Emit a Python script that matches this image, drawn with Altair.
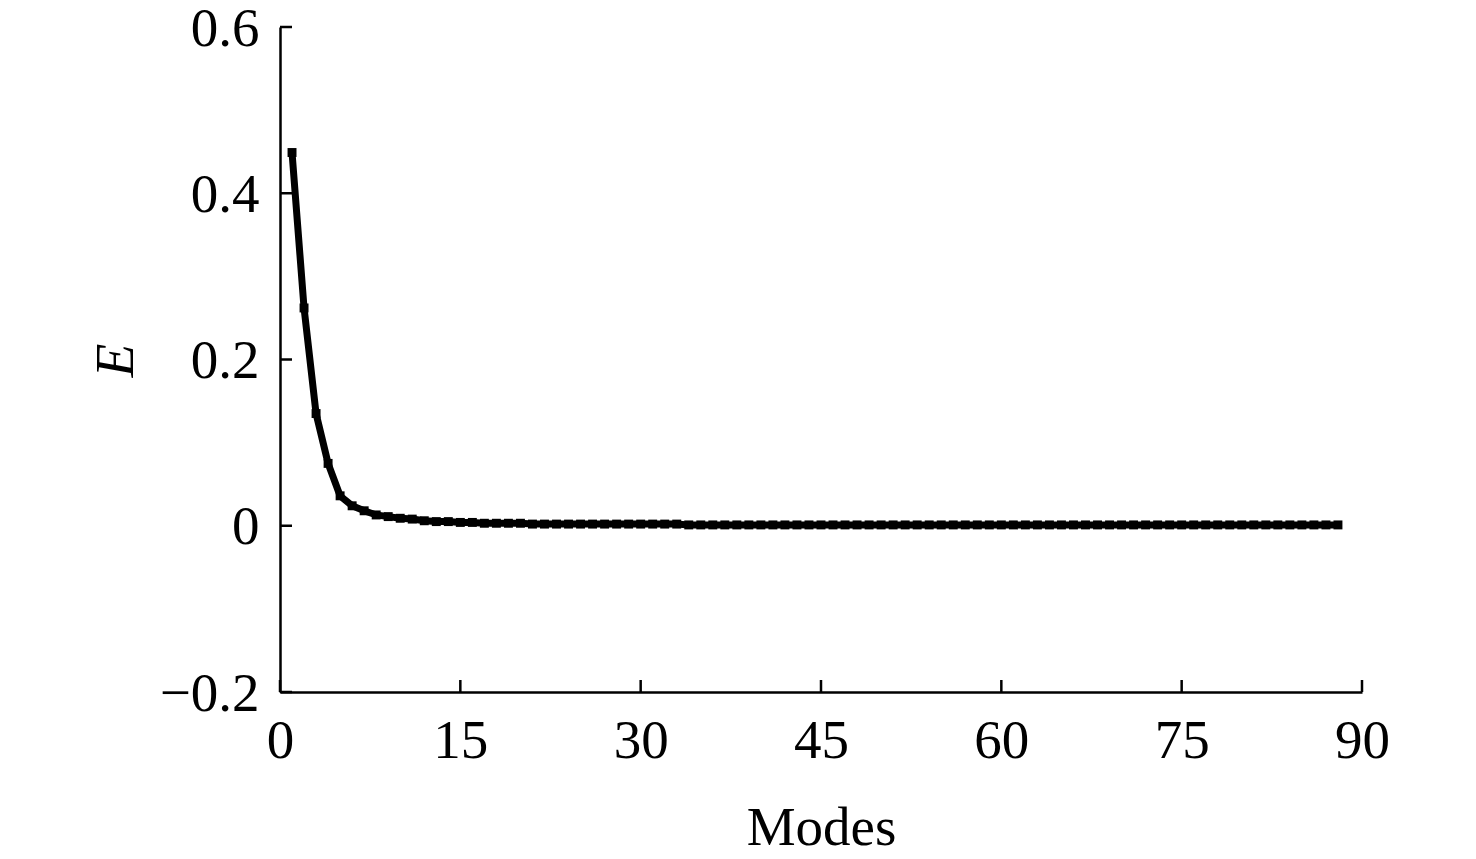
import altair as alt
import pandas as pd

modes = list(range(1, 89))
energy = [
    0.449, 0.262, 0.135, 0.075, 0.036, 0.024, 0.018, 0.013, 0.011, 0.009,
    0.008, 0.006, 0.005, 0.005, 0.004, 0.004, 0.003, 0.003, 0.003, 0.003,
    0.002, 0.002, 0.002, 0.002, 0.002, 0.002, 0.002, 0.002, 0.002, 0.002,
    0.002, 0.002, 0.002, 0.001, 0.001, 0.001, 0.001, 0.001, 0.001, 0.001,
    0.001, 0.001, 0.001, 0.001, 0.001, 0.001, 0.001, 0.001, 0.001, 0.001,
    0.001, 0.001, 0.001, 0.001, 0.001, 0.001, 0.001, 0.001, 0.001, 0.001,
    0.001, 0.001, 0.001, 0.001, 0.001, 0.001, 0.001, 0.001, 0.001, 0.001,
    0.001, 0.001, 0.001, 0.001, 0.001, 0.001, 0.001, 0.001, 0.001, 0.001,
    0.001, 0.001, 0.001, 0.001, 0.001, 0.001, 0.001, 0.001,
]
x_ticks = [0, 15, 30, 45, 60, 75, 90]
y_ticks = [-0.2, 0, 0.2, 0.4, 0.6]

W, H = 1082, 665
FONT = "Liberation Serif"
FS = 55

df = pd.DataFrame({"mode": modes, "E": energy})
x_scale = alt.Scale(domain=[0, 90], nice=False, zero=False)
y_scale = alt.Scale(domain=[-0.2, 0.6], nice=False, zero=False)

x_axis = alt.Axis(
    values=x_ticks, title="Modes", format="d",
    labelBaseline="alphabetic", labelPadding=65,
    titleBaseline="alphabetic", titleY=152, titleX=W / 2, titleAlign="center",
)
y_axis = alt.Axis(
    values=y_ticks, title="E", format="~g",
    labelBaseline="alphabetic", labelOffset=18, labelPadding=21,
    titleFontStyle="italic", titleAngle=270, titleBaseline="alphabetic",
    titleX=-148, titleY=333, titleAlign="center",
)

line = alt.Chart(df).mark_line(
    color="black", strokeWidth=7,
    point=alt.OverlayMarkDef(shape="square", size=80, filled=True, color="black"),
).encode(
    x=alt.X("mode:Q", scale=x_scale, axis=x_axis),
    y=alt.Y("E:Q", scale=y_scale, axis=y_axis),
)

xt = alt.Chart(pd.DataFrame({"mode": x_ticks})).mark_rule(color="black", strokeWidth=2.5).encode(
    x=alt.X("mode:Q", scale=x_scale, axis=x_axis),
    y=alt.value(H), y2=alt.value(H - 12),
)
yt = alt.Chart(pd.DataFrame({"E": y_ticks})).mark_rule(color="black", strokeWidth=2.5).encode(
    y=alt.Y("E:Q", scale=y_scale, axis=y_axis),
    x=alt.value(0), x2=alt.value(12),
)

chart = alt.layer(line, xt, yt).properties(
    width=W, height=H,
    autosize=alt.AutoSizeParams(type="none"),
    padding={"left": 272, "top": 19, "right": 90, "bottom": 155},
).configure_view(stroke=None).configure_axis(
    grid=False, ticks=False, tickSize=0,
    domainColor="black", domainWidth=2.5,
    labelFont=FONT, labelFontSize=FS, labelColor="black",
    titleFont=FONT, titleFontSize=FS, titleColor="black", titleFontWeight="normal",
    labelFlush=False, labelOverlap=False,
)

chart.save("out.html", embed_options={"renderer": "svg", "actions": False})
